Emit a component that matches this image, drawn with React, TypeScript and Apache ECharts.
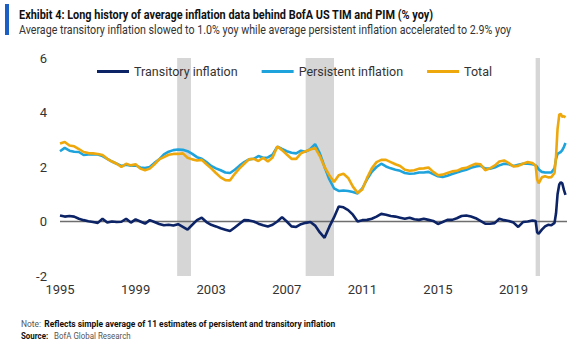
import React, { useEffect, useRef } from 'react';
import * as echarts from 'echarts';

const FONT = 'Roboto, "Noto Sans", sans-serif';

const TITLE = 'Exhibit 4: Long history of average inflation data behind BofA US TIM and PIM (% yoy)';
const SUBTITLE = 'Average transitory inflation slowed to 1.0% yoy while average persistent inflation accelerated to 2.9% yoy';

const seriesNames = ['Transitory inflation', 'Persistent inflation', 'Total'];

// x positions (decimal years): quarterly 1995.00 .. 2020.00, then a finer tail
const quarterDates = Array.from({ length: 101 }, (_, i) => 1995 + i / 4);
const tailDates = [2020.17, 2020.25, 2020.33, 2020.5, 2020.67, 2020.83, 2021.0, 2021.17, 2021.25, 2021.33, 2021.42, 2021.5, 2021.58, 2021.67, 2021.75];
const dates = [...quarterDates, ...tailDates];

const transitory = [
  0.22, 0.18, 0.20, 0.18,
  0.10, 0.05, 0.01, -0.02,
  -0.05, 0.10, -0.04, 0.00,
  -0.02, -0.01, 0.10, -0.04,
  0.08, 0.00, -0.08, 0.05,
  -0.02, -0.09, -0.14, -0.12,
  -0.15, -0.10, -0.20, -0.30,
  -0.12, 0.05, 0.14, -0.02,
  -0.12, -0.18, -0.25, -0.30,
  -0.35, -0.22, -0.08, 0.05,
  0.04, 0.00, -0.08, -0.14,
  -0.18, -0.12, 0.00, 0.16,
  0.00, -0.18, -0.20, -0.10,
  -0.05, -0.02, -0.15, -0.40,
  -0.60, -0.20, 0.15, 0.55,
  0.52, 0.42, 0.25, 0.00,
  0.05, 0.06, 0.10, 0.18,
  0.28, 0.25, 0.20, 0.18,
  0.14, 0.10, 0.14, 0.08,
  0.06, 0.10, 0.06, 0.02,
  -0.09, -0.02, 0.06, 0.06,
  0.12, 0.20, 0.22, 0.18,
  0.12, 0.02, -0.08, -0.08,
  -0.06, 0.10, 0.05, 0.02,
  -0.04, -0.20, -0.02, 0.00,
  0.04,
  0.02, -0.40, -0.45, -0.30, -0.18, -0.12, -0.14, -0.05, 0.30, 1.00, 1.36, 1.44, 1.40, 1.15, 0.98,
];

const persistent = [
  2.58, 2.70, 2.60, 2.56,
  2.55, 2.44, 2.46, 2.46,
  2.46, 2.40, 2.30, 2.20,
  2.12, 2.04, 2.08, 2.05,
  2.06, 1.98, 1.96, 2.00,
  2.15, 2.28, 2.46, 2.56,
  2.62, 2.64, 2.63, 2.58,
  2.48, 2.36, 2.30, 2.18,
  2.04, 1.95, 1.88, 1.80,
  1.78, 1.90, 2.05, 2.18,
  2.28, 2.30, 2.40, 2.34,
  2.35, 2.45, 2.75, 2.66,
  2.58, 2.52, 2.50, 2.60,
  2.56, 2.66, 2.84, 2.50,
  2.00, 1.55, 1.22, 1.12,
  1.14, 1.12, 1.08, 1.03,
  1.22, 1.55, 1.82, 2.00,
  2.12, 2.02, 1.95, 1.90,
  1.86, 1.78, 1.75, 1.76,
  1.80, 1.80, 1.82, 1.74,
  1.66, 1.63, 1.68, 1.74,
  1.80, 1.85, 1.90, 1.97,
  2.02, 2.05, 1.94, 1.94,
  1.98, 2.06, 2.12, 2.10,
  2.04, 2.08, 2.12, 2.12,
  2.10,
  2.06, 2.00, 1.92, 1.82, 1.80, 1.80, 1.80, 1.95, 2.30, 2.48, 2.52, 2.55, 2.62, 2.74, 2.88,
];

const total = [
  2.86, 2.92, 2.79, 2.76,
  2.66, 2.55, 2.51, 2.50,
  2.48, 2.44, 2.30, 2.20,
  2.12, 2.00, 2.12, 2.06,
  2.10, 1.94, 1.88, 1.94,
  2.10, 2.28, 2.36, 2.45,
  2.48, 2.48, 2.50, 2.34,
  2.28, 2.24, 2.26, 2.10,
  1.95, 1.78, 1.62, 1.52,
  1.51, 1.75, 1.95, 2.12,
  2.28, 2.30, 2.22, 2.34,
  2.20, 2.35, 2.75, 2.62,
  2.46, 2.30, 2.30, 2.50,
  2.58, 2.64, 2.70, 2.40,
  2.00, 1.70, 1.45, 1.70,
  1.75, 1.60, 1.28, 1.05,
  1.18, 1.60, 1.95, 2.18,
  2.26, 2.26, 2.18, 2.10,
  2.04, 1.90, 1.86, 1.88,
  1.94, 1.95, 1.98, 1.82,
  1.70, 1.72, 1.78, 1.84,
  1.86, 1.94, 1.97, 2.05,
  2.12, 2.10, 1.88, 1.95,
  2.05, 2.20, 2.24, 2.14,
  2.02, 2.04, 2.12, 2.18,
  2.15,
  2.05, 1.55, 1.40, 1.62, 1.66, 1.62, 1.63, 1.78, 2.40, 3.40, 3.92, 3.95, 3.84, 3.86, 3.82,
];

const recessions = [
  [2001.2, 2001.93],
  [2008.0, 2009.5],
  [2020.17, 2020.4],
];

const xTickLabels = [1995, 1999, 2003, 2007, 2011, 2015, 2019];
const X_MIN = 1995;
const X_MAX = 2021.83;

const colors = ['#0c2366', '#1fa3dc', '#efa80c'];

const pairs = (vals: number[]) => dates.map((d, i) => [d, vals[i]]);

export default function App() {
  const ref = useRef<HTMLDivElement>(null);
  useEffect(() => {
    const chart = echarts.init(ref.current!, null, { renderer: 'svg' });
    const option: any = {
      animation: false,
      backgroundColor: '#ffffff',
      textStyle: { fontFamily: FONT },
      grid: { left: 60, right: 8, top: 58, bottom: 69, containLabel: false },
      legend: {
        data: seriesNames,
        left: 92,
        top: 60,
        icon: 'rect',
        itemWidth: 32,
        itemHeight: 3,
        itemGap: 24,
        textStyle: { fontSize: 12.5, color: '#333', fontFamily: FONT },
      },
      xAxis: {
        type: 'value',
        min: X_MIN,
        max: X_MAX,
        interval: 4,
        axisLine: { show: false },
        axisTick: { show: false },
        splitLine: { show: false },
        axisLabel: {
          fontSize: 13,
          color: '#333',
          margin: 7,
          showMaxLabel: false,
          formatter: (v: number) => (xTickLabels.includes(Math.round(v)) && Math.abs(v - Math.round(v)) < 1e-6 ? String(Math.round(v)) : ''),
        },
      },
      yAxis: {
        type: 'value',
        min: -2,
        max: 6,
        interval: 2,
        axisLine: { show: false },
        axisTick: { show: false },
        splitLine: { show: false },
        axisLabel: { fontSize: 13, color: '#333', margin: 13 },
      },
      series: [
        {
          name: 'zero',
          type: 'line',
          data: [[X_MIN, 0], [X_MAX, 0]],
          symbol: 'none',
          silent: true,
          lineStyle: { color: '#6e6e6e', width: 1.5 },
          markArea: {
            silent: true,
            itemStyle: { color: '#d6d6d6' },
            data: recessions.map(([a, b]) => [{ xAxis: a }, { xAxis: b }]),
          },
        },
        {
          name: seriesNames[0],
          type: 'line',
          data: pairs(transitory),
          symbol: 'none',
          lineStyle: { color: colors[0], width: 2.6 },
          itemStyle: { color: colors[0] },
        },
        {
          name: seriesNames[1],
          type: 'line',
          data: pairs(persistent),
          symbol: 'none',
          lineStyle: { color: colors[1], width: 2.6 },
          itemStyle: { color: colors[1] },
        },
        {
          name: seriesNames[2],
          type: 'line',
          data: pairs(total),
          symbol: 'none',
          lineStyle: { color: colors[2], width: 2.6 },
          itemStyle: { color: colors[2] },
        },
      ],
      graphic: [
        { type: 'rect', shape: { x: 5, y: 4, width: 4, height: 31 }, style: { fill: '#1c5fc4' } },
        {
          type: 'text', x: 19, y: 15, scaleX: 0.84,
          style: { text: TITLE, fontFamily: FONT, fontSize: 13, fontWeight: 'bold', fill: '#111', verticalAlign: 'middle' },
        },
        {
          type: 'text', x: 19, y: 30, scaleX: 0.855,
          style: { text: SUBTITLE, fontFamily: FONT, fontSize: 12.5, fill: '#333', verticalAlign: 'middle' },
        },
        {
          type: 'text', x: 21, y: 324, scaleX: 0.94,
          style: {
            text: '{n|Note:} {b|Reflects simple average of 11 estimates of persistent and transitory inflation}',
            verticalAlign: 'middle',
            rich: {
              n: { fontFamily: FONT, fontSize: 9, fill: '#555' },
              b: { fontFamily: FONT, fontSize: 9, fontWeight: 'bold', fill: '#111' },
            },
          },
        },
        {
          type: 'text', x: 21, y: 336, scaleX: 0.88,
          style: {
            text: '{b|Source:}  {n|BofA Global Research}',
            verticalAlign: 'middle',
            rich: {
              n: { fontFamily: FONT, fontSize: 9, fill: '#555' },
              b: { fontFamily: FONT, fontSize: 9, fontWeight: 'bold', fill: '#111' },
            },
          },
        },
      ],
    };
    chart.setOption(option);
    return () => chart.dispose();
  }, []);
  return (
    <div
      ref={ref}
      style={{ position: 'fixed', left: 0, top: 0, width: 575, height: 345, background: '#fff' }}
    />
  );
}
